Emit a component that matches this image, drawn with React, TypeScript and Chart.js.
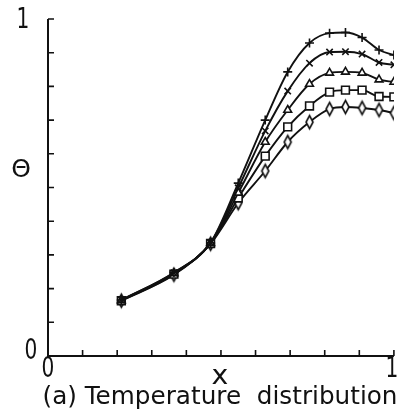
import React, { useEffect, useRef } from "react";
import { Chart, registerables } from "chart.js";

Chart.register(...registerables);

// ---- data ----
const xValues = [0.212, 0.364, 0.47, 0.55, 0.628, 0.693, 0.756, 0.814, 0.86, 0.908, 0.957, 1.0];
const seriesPlus = [0.166, 0.248, 0.336, 0.513, 0.7, 0.843, 0.929, 0.958, 0.96, 0.945, 0.908, 0.893];
const seriesCross = [0.166, 0.247, 0.336, 0.499, 0.668, 0.786, 0.869, 0.902, 0.903, 0.896, 0.871, 0.864];
const seriesTriangle = [0.165, 0.245, 0.335, 0.484, 0.635, 0.73, 0.807, 0.84, 0.843, 0.84, 0.82, 0.813];
const seriesSquare = [0.164, 0.243, 0.334, 0.469, 0.593, 0.68, 0.742, 0.783, 0.789, 0.789, 0.77, 0.769];
const seriesDiamond = [0.164, 0.241, 0.333, 0.454, 0.549, 0.635, 0.694, 0.733, 0.739, 0.736, 0.73, 0.721];
const tickValues = [0.1, 0.2, 0.3, 0.4, 0.5, 0.6, 0.7, 0.8, 0.9, 1.0];
const xTickLabels = ["0", "1"];
const yTickLabels = ["0", "1"];
const xTitle = "x";
const yTitle = "\u0398";
const caption = "(a) Temperature  distribution";

const INK = "#111111";
const FONT = '"DejaVu Sans", sans-serif';

function makeDiamond(w: number, h: number, lw: number) {
  const c = document.createElement("canvas");
  c.width = Math.ceil(w + lw * 2 + 2);
  c.height = Math.ceil(h + lw * 2 + 2);
  const g = c.getContext("2d")!;
  const cx = c.width / 2;
  const cy = c.height / 2;
  g.fillStyle = "#fff";
  g.strokeStyle = INK;
  g.lineWidth = lw;
  g.beginPath();
  g.moveTo(cx, cy - h / 2);
  g.lineTo(cx + w / 2, cy);
  g.lineTo(cx, cy + h / 2);
  g.lineTo(cx - w / 2, cy);
  g.closePath();
  g.fill();
  g.stroke();
  return c;
}

function drawText(ctx: CanvasRenderingContext2D, text: string, cx: number, cy: number, size: number, opts: { width?: number; sx?: number; family?: string } = {}) {
  ctx.save();
  ctx.font = `${size}px ${opts.family || FONT}`;
  ctx.textAlign = "center";
  ctx.textBaseline = "middle";
  const w = ctx.measureText(text).width;
  const sx = opts.width ? opts.width / w : opts.sx || 1;
  ctx.translate(cx, cy);
  ctx.scale(sx, 1);
  ctx.fillText(text, 0, 0);
  ctx.restore();
}

const framePlugin = {
  id: "frame",
  afterDraw(chart: any) {
    const { ctx, scales } = chart;
    const xs = scales.x;
    const ys = scales.y;
    const x0 = xs.getPixelForValue(0);
    const x1 = xs.getPixelForValue(1);
    const y0 = ys.getPixelForValue(0);
    const y1 = ys.getPixelForValue(1);
    ctx.save();
    ctx.strokeStyle = INK;
    ctx.lineWidth = 2;
    ctx.beginPath();
    ctx.moveTo(x0, y1);
    ctx.lineTo(x0, y0);
    ctx.lineTo(x1, y0);
    ctx.stroke();
    ctx.lineWidth = 1.6;
    ctx.beginPath();
    for (const t of tickValues) {
      const py = ys.getPixelForValue(t);
      ctx.moveTo(x0, py);
      ctx.lineTo(x0 + 6, py);
      const px = xs.getPixelForValue(t);
      ctx.moveTo(px, y0);
      ctx.lineTo(px, y0 - 6);
    }
    ctx.stroke();

    ctx.fillStyle = INK;
    // y tick labels
    drawText(ctx, yTickLabels[1], x0 - 25, y1 + 2, 28, { sx: 0.72 });
    drawText(ctx, yTickLabels[0], x0 - 17, y0 - 4, 28, { sx: 0.72 });
    // x tick labels
    drawText(ctx, xTickLabels[0], x0, y0 + 14, 28, { sx: 0.72 });
    drawText(ctx, xTickLabels[1], x1 - 2, y0 + 14, 28, { sx: 0.72 });
    // axis titles
    drawText(ctx, xTitle, (x0 + x1) / 2 - 1, y0 + 21, 27, { sx: 1.05 });
    drawText(ctx, yTitle, x0 - 27, ys.getPixelForValue(0.55), 25);
    // caption
    drawText(ctx, caption, 220, y0 + 41, 25, { width: 355 });
    ctx.restore();
  },
};

export default function App() {
  const ref = useRef<HTMLCanvasElement>(null);
  useEffect(() => {
    if (!ref.current) return;
    const diamond = makeDiamond(7, 13, 1.6);
    const mk = (data: number[], style: any, radius: number) => ({
      data: xValues.map((x, i) => ({ x, y: data[i] })),
      borderColor: INK,
      borderWidth: 1.9,
      backgroundColor: "#fff",
      pointBorderColor: INK,
      pointBackgroundColor: "#fff",
      pointBorderWidth: 1.6,
      pointStyle: style,
      pointRadius: radius,
      cubicInterpolationMode: "monotone",
      fill: false,
    });
    const chart = new Chart(ref.current, {
      type: "line",
      data: {
        datasets: [
          mk(seriesPlus, "cross", 4.5),
          mk(seriesCross, "crossRot", 4.5),
          mk(seriesTriangle, "triangle", 4.5),
          mk(seriesSquare, "rect", 5.5),
          mk(seriesDiamond, diamond, 5),
        ] as any,
      },
      options: {
        animation: false,
        responsive: false,
        events: [],
        layout: { padding: { left: 48, right: 4, top: 19, bottom: 63 } },
        plugins: { legend: { display: false }, tooltip: { enabled: false }, title: { display: false } },
        scales: {
          x: { type: "linear", min: 0, max: 1, display: false },
          y: { type: "linear", min: 0, max: 1, display: false },
        },
      },
      plugins: [framePlugin],
    });
    return () => chart.destroy();
  }, []);
  return (
    <div style={{ position: "absolute", left: 0, top: 0, width: 401, height: 419, background: "#fff" }}>
      <canvas ref={ref} width={401} height={419} style={{ display: "block" }} />
    </div>
  );
}
